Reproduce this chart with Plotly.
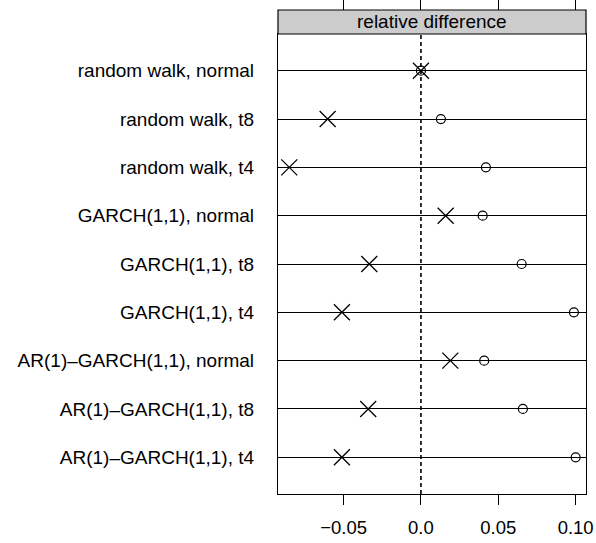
import plotly.graph_objects as go

# Model specifications (top to bottom)
models = [
    "random walk, normal",
    "random walk, t8",
    "random walk, t4",
    "GARCH(1,1), normal",
    "GARCH(1,1), t8",
    "GARCH(1,1), t4",
    "AR(1)–GARCH(1,1), normal",
    "AR(1)–GARCH(1,1), t8",
    "AR(1)–GARCH(1,1), t4",
]
# Relative difference for the two estimators
cross_values = [0.000, -0.0603, -0.0851, 0.0160, -0.0334, -0.0511, 0.0190, -0.0341, -0.0511]
circle_values = [0.000, 0.0129, 0.0420, 0.0399, 0.0651, 0.0989, 0.0409, 0.0659, 0.1000]

x_tickvals = [-0.05, 0.0, 0.05, 0.10]
x_ticktext = ["\u22120.05", "0.0", "0.05", "0.10"]
reference_value = 0.0
strip_title = "relative difference"

rows = list(range(1, len(models) + 1))
font_family = "Liberation Sans, Arial, Helvetica, sans-serif"
fs = 18.5
fs_lab = 19

fig = go.Figure()
fig.add_trace(go.Scatter(
    x=circle_values, y=rows, mode="markers",
    marker=dict(symbol="circle-open", size=9, color="black", line=dict(width=1.2, color="black")),
    showlegend=False, hoverinfo="x+y",
))
fig.add_trace(go.Scatter(
    x=cross_values, y=rows, mode="markers",
    marker=dict(symbol="x-thin-open", size=16, color="black", line=dict(width=1.3, color="black")),
    showlegend=False, hoverinfo="x+y",
))

# dashed reference line
fig.add_vline(x=reference_value, line=dict(color="black", width=1.6, dash="4px,3px"), layer="below")

panel_top = 460 / 484
fig.update_layout(
    template="none",
    width=596, height=543,
    margin=dict(l=278, r=10, t=10, b=49, autoexpand=False),
    paper_bgcolor="white", plot_bgcolor="white",
    font=dict(family=font_family, size=fs, color="black"),
    xaxis=dict(
        range=[-0.0924, 0.1067], tickvals=x_tickvals, ticktext=x_ticktext,
        ticks="outside", ticklen=10, tickwidth=1, tickcolor="black", ticklabelstandoff=7,
        showline=True, linecolor="black", linewidth=1.2, mirror=True,
        showgrid=False, zeroline=False, tickfont=dict(size=fs), automargin=False,
    ),
    xaxis2=dict(
        overlaying="x", matches="x", side="top", anchor="free", position=1,
        tickvals=x_tickvals, ticks="outside", ticklen=10, tickwidth=1, tickcolor="black",
        showticklabels=False, showline=False, showgrid=False, zeroline=False, automargin=False,
    ),
    yaxis=dict(
        domain=[0, panel_top], range=[9.76, 0.24],
        tickvals=rows, ticktext=models, ticks="", ticklabelstandoff=19,
        showline=True, linecolor="black", linewidth=1.2, mirror=True,
        showgrid=True, gridcolor="black", gridwidth=1, zeroline=False,
        tickfont=dict(size=fs_lab), automargin=False,
    ),
)

# invisible trace to bring the top axis into play
fig.add_trace(go.Scatter(x=[None], y=[None], xaxis="x2", showlegend=False, hoverinfo="skip"))

# strip header
fig.add_shape(type="rect", xref="paper", yref="paper", x0=0, x1=1, y0=panel_top, y1=1,
              fillcolor="#cccccc", line=dict(color="black", width=1.2))
fig.add_annotation(text=strip_title, xref="paper", yref="paper", x=0.5, y=(panel_top + 1) / 2,
                   showarrow=False, font=dict(size=fs_lab, color="black"), yanchor="middle")

fig.write_html("out.html")
